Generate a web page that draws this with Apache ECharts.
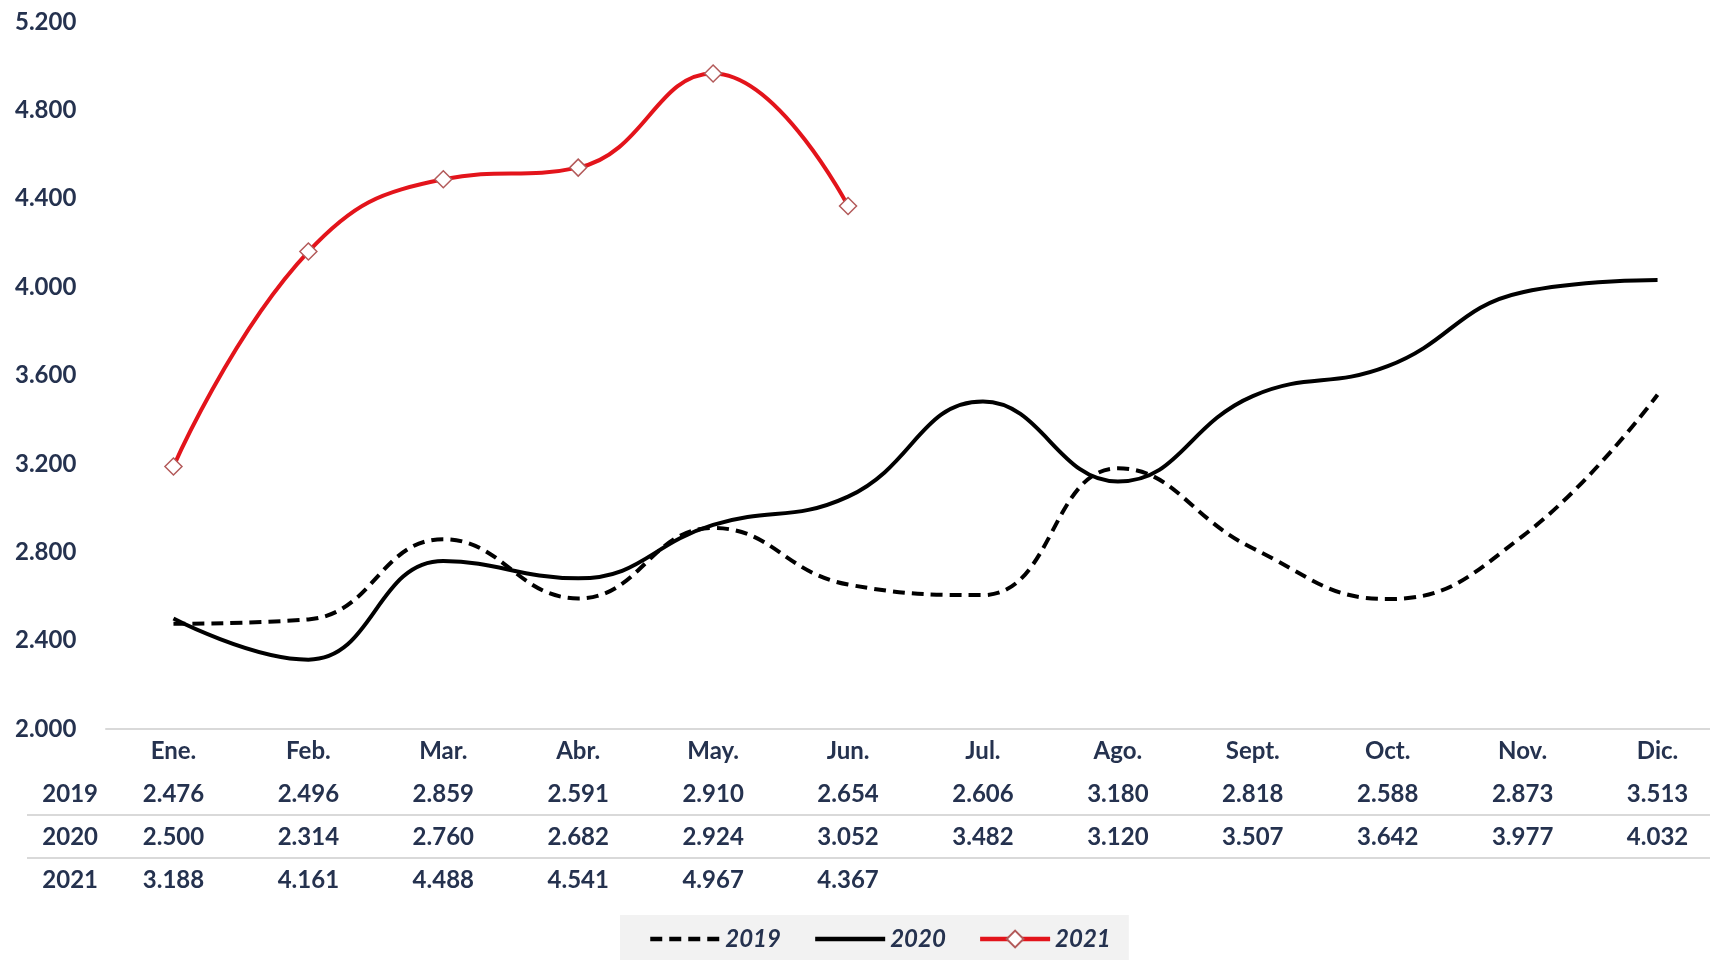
<!DOCTYPE html>
<html>
<head>
<meta charset="utf-8">
<title>Evolución mensual</title>
<script src="https://cdn.jsdelivr.net/npm/echarts@6/dist/echarts.min.js"></script>
<style>
  html, body { margin: 0; padding: 0; background: #fff; }
  #chart { width: 1710px; height: 960px; }
</style>
</head>
<body>
<div id="chart"></div>
<script>
// meses
var months = ['Ene.', 'Feb.', 'Mar.', 'Abr.', 'May.', 'Jun.', 'Jul.', 'Ago.', 'Sept.', 'Oct.', 'Nov.', 'Dic.'];
// valores por año
var v2019 = [2476, 2496, 2859, 2591, 2910, 2654, 2606, 3180, 2818, 2588, 2873, 3513];
var v2020 = [2500, 2314, 2760, 2682, 2924, 3052, 3482, 3120, 3507, 3642, 3977, 4032];
var v2021 = [3188, 4161, 4488, 4541, 4967, 4367];
var years = ['2019', '2020', '2021'];

var navy = '#25324f';
var font = 'Lato';
var fs = 24;

// 2476 -> "2.476"
function fmt(v) {
  if (v === undefined || v === null) return '';
  return (v / 1000).toFixed(3);
}

// eje extra para cada fila de la tabla
function rowAxis(name, values, offset) {
  return {
    type: 'category',
    gridIndex: 0,
    position: 'bottom',
    offset: offset,
    data: months,
    name: name,
    nameLocation: 'start',
    nameGap: 8,
    nameTextStyle: {
      color: navy, fontFamily: font, fontWeight: 'bold', fontSize: fs,
      verticalAlign: 'top', lineHeight: fs, padding: [10, 0, 0, 0]
    },
    axisLine: { show: false },
    axisTick: { show: false },
    axisLabel: {
      margin: 10, color: navy, fontFamily: font, fontWeight: 'bold', fontSize: fs, lineHeight: fs,
      formatter: function (val, idx) { return fmt(values[idx]); }
    },
    splitLine: { show: false }
  };
}

var hidden = { color: 'rgba(0,0,0,0)', borderColor: 'rgba(0,0,0,0)', borderWidth: 0 };

var option = {
  animation: false,
  backgroundColor: '#fff',
  grid: { left: 106, right: -15, top: 22, bottom: 231, outerBoundsMode: 'none' },
  legend: {
    data: [
      { name: '2019', itemStyle: hidden, lineStyle: { width: 4.5 } },
      { name: '2020', itemStyle: hidden, lineStyle: { width: 4.5 } },
      { name: '2021', lineStyle: { width: 4.5 } }
    ],
    left: 620,
    top: 915,
    padding: [12, 18, 9, 28],
    itemGap: 32,
    itemWidth: 70,
    itemHeight: 21,
    backgroundColor: '#f2f2f2',
    textStyle: { color: navy, fontFamily: font, fontWeight: 'bold', fontStyle: 'italic', fontSize: fs }
  },
  xAxis: [
    {
      type: 'category',
      data: months,
      axisLine: { lineStyle: { color: '#d9d9d9', width: 2 } },
      axisTick: { show: false },
      axisLabel: { margin: 10, color: navy, fontFamily: font, fontWeight: 'bold', fontSize: fs, lineHeight: fs },
      splitLine: { show: false }
    },
    rowAxis('2019', v2019, 43),
    rowAxis('2020', v2020, 86),
    rowAxis('2021', v2021, 129)
  ],
  yAxis: {
    type: 'value',
    min: 2000,
    max: 5200,
    interval: 400,
    axisLine: { show: false },
    axisTick: { show: false },
    splitLine: { show: false },
    axisLabel: {
      align: 'left', margin: 91, color: navy, fontFamily: font, fontWeight: 'bold', fontSize: fs,
      formatter: function (v) { return fmt(v); }
    }
  },
  graphic: [
    { type: 'line', shape: { x1: 27, y1: 815, x2: 1710, y2: 815 }, style: { stroke: '#d9d9d9', lineWidth: 2 } },
    { type: 'line', shape: { x1: 27, y1: 858, x2: 1710, y2: 858 }, style: { stroke: '#d9d9d9', lineWidth: 2 } }
  ],
  series: [
    {
      name: '2019', type: 'line', data: v2019, smooth: 0.45,
      symbol: 'none',
      itemStyle: { color: '#000' },
      lineStyle: { color: '#000', width: 4, type: [12, 7] }
    },
    {
      name: '2020', type: 'line', data: v2020, smooth: 0.45,
      symbol: 'none',
      itemStyle: { color: '#000' },
      lineStyle: { color: '#000', width: 4 }
    },
    {
      name: '2021', type: 'line', data: v2021, smooth: 0.45,
      symbol: 'diamond', symbolSize: 17,
      itemStyle: { color: '#fff', borderColor: '#b35a5a', borderWidth: 1.5 },
      lineStyle: { color: '#e3141b', width: 4 },
      z: 3
    }
  ]
};

var myChart = echarts.init(document.getElementById('chart'));
myChart.setOption(option);
</script>
</body>
</html>
